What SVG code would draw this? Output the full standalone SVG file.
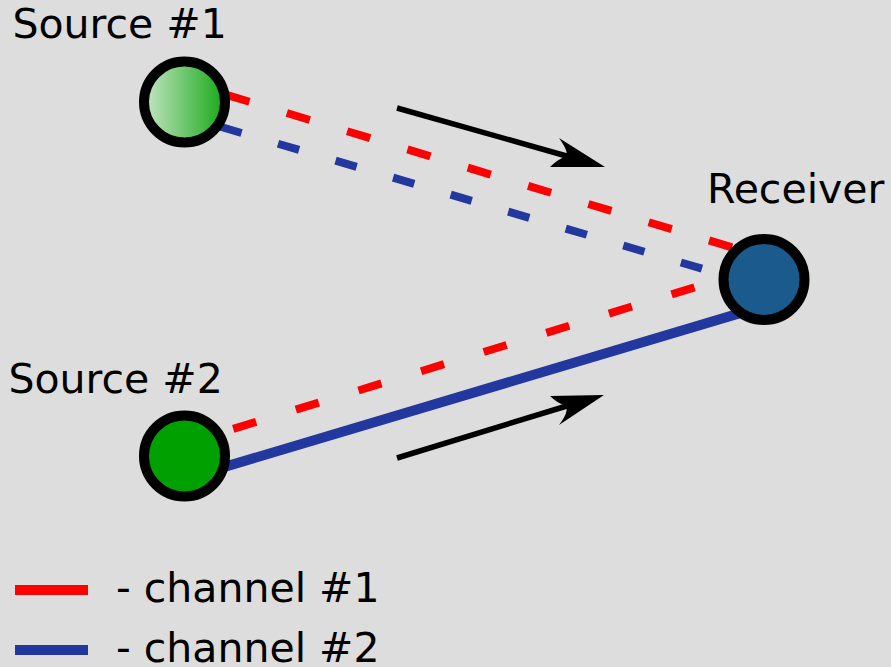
<svg xmlns="http://www.w3.org/2000/svg" width="891" height="667" viewBox="0 0 891 667">
  <defs>
    <linearGradient id="srcGrad" x1="0" y1="0" x2="1" y2="0">
      <stop offset="0" stop-color="#c6e6c6"/>
      <stop offset="1" stop-color="#16a816"/>
    </linearGradient>
    <style>
      .lbl { font-family: "DejaVu Sans", "Liberation Sans", sans-serif; font-size: 41px; fill: #000; }
      .node { stroke: #000; stroke-width: 10; }
      .ch1 { stroke: #ff0000; stroke-width: 8; fill: none; }
      .ch2 { stroke: #22389e; stroke-width: 8; fill: none; }
      .ch2s { stroke: #22389e; stroke-width: 10; fill: none; }
      .dir { stroke: #000; stroke-width: 5.5; fill: none; }
      .head { fill: #000; stroke: none; }
    </style>
  </defs>

  <rect width="891" height="667" fill="#dddddd"/>

  <!-- signal paths -->
  <g id="connectors">
    <line class="ch1" x1="184" y1="82" x2="764" y2="257" stroke-dasharray="24 39" stroke-dashoffset="18.6"/>
    <line class="ch2" x1="184" y1="116" x2="764" y2="287" stroke-dasharray="22 38" stroke-dashoffset="22"/>
    <line class="ch1" x1="184" y1="444" x2="764" y2="266" stroke-dasharray="24 41.5" stroke-dashoffset="14"/>
    <line class="ch2s" x1="184" y1="479" x2="764" y2="306"/>
    <!-- direction arrows -->
    <line class="dir" x1="397" y1="108" x2="570" y2="157"/>
    <path class="head" d="M605,167 L559,138 Q569,152 566,156 Q557,160 550,167 Z"/>
    <line class="dir" x1="397" y1="458" x2="570" y2="405"/>
    <path class="head" d="M604,395 L550,396 Q557,403 566,406 Q569,412 559,425 Z"/>
  </g>

  <g id="source1">
    <circle class="node" cx="184.5" cy="102" r="40.5" fill="url(#srcGrad)"/>
    <text class="lbl" x="12.5" y="38">Source #1</text>
  </g>

  <g id="source2">
    <circle class="node" cx="184.5" cy="456" r="40.5" fill="#00a000"/>
    <text class="lbl" x="8.5" y="393">Source #2</text>
  </g>

  <g id="receiver">
    <circle class="node" cx="764" cy="279.5" r="40.5" fill="#1a5a8c"/>
    <text class="lbl" x="707" y="203">Receiver</text>
  </g>

  <g id="legend">
    <line stroke="#ff0000" stroke-width="10" x1="15" y1="590" x2="88" y2="590"/>
    <text class="lbl" x="116" y="602">- channel #1</text>
    <line stroke="#22389e" stroke-width="10" x1="15" y1="650" x2="88" y2="650"/>
    <text class="lbl" x="116" y="662">- channel #2</text>
  </g>
</svg>
